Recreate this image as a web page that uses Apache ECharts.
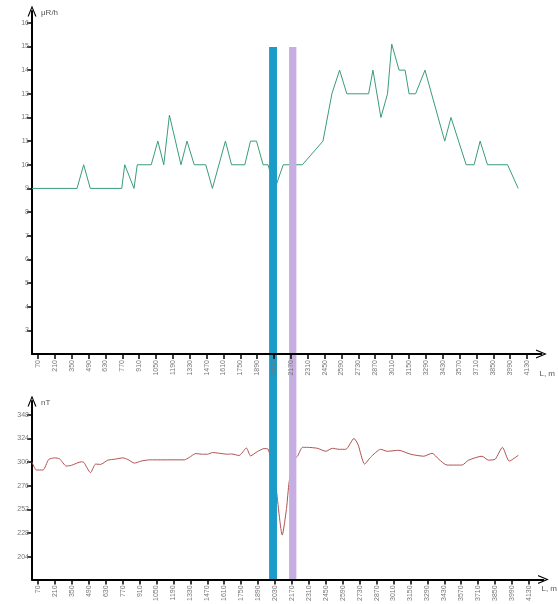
<!DOCTYPE html>
<html>
<head>
<meta charset="utf-8">
<script src="https://cdn.jsdelivr.net/npm/echarts@6/dist/echarts.min.js"></script>
<style>html,body{margin:0;padding:0;background:#fff;}#c{width:558px;height:604px;}</style>
</head>
<body>
<div id="c"></div>
<script>
// ---- data ----
const xTickLabels = [70,210,350,490,630,770,910,1050,1190,1330,1470,1610,1750,1890,2030,2170,2310,2450,2590,2730,2870,3010,3150,3290,3430,3570,3710,3850,3990,4130];
const doseTicks = [3,4,5,6,7,8,9,10,11,12,13,14,15,16];
const magTicks = [204,228,252,276,300,324,348];

const doseX = [20,394,449,504,765,790,867,894,1010,1065,1114,1161,1257,1307,1367,1463,1518,1626,1677,1787,1834,1884,1939,1980,2038,2106,2265,2436,2510,2574,2634,2815,2851,2917,2972,3007,3068,3118,3151,3205,3283,3447,3499,3625,3691,3741,3802,3969,4057];
const doseY = [9,9,10,9,9,10,9,10,10,11,10,12.1,10,11,10,10,9,11,10,10,11,11,10,10,9,10,10,11,13,14,13,13,14,12,13,15.1,14,14,13,13,14,11,12,10,10,11,10,10,9];

const magX = [20,56,111,158,208,249,303,345,427,449,504,546,587,647,707,771,812,867,921,991,1279,1320,1375,1430,1471,1513,1568,1636,1669,1733,1793,1828,1884,1939,1972,2034,2090,2125,2147,2189,2216,2257,2298,2381,2450,2504,2560,2615,2683,2716,2771,2821,2903,2958,3054,3151,3260,3329,3384,3452,3576,3631,3741,3796,3851,3911,3967,4043];
const magY = [300,292,292,302.7,304.3,303.3,296,296.7,300.3,299.7,289.3,298,297.7,302,303,304.3,302.7,299,301,302.3,302.3,304.7,308.7,308,308,309.7,309,308,308.3,306.7,314.3,306.3,310.7,313.7,313.3,278,226,253,280,303,306,315,315,314,311,314,313,313,324,318,298,305,313,311,312,308,306,309,303,297,297,302,306,302,303,315,301,307];

const bandStart = [1975, 2140];
const bandEnd = [2040, 2200];
const bandColor = ['#1a9bc9', '#c6aee3'];

// ---- chart ----
const chart = echarts.init(document.getElementById('c'));
const font = 'Liberation Sans, Arial, sans-serif';
const chevron = 'path://M5,0 L10,12 L8.6,12 L5,3 L1.4,12 L0,12 Z';
const X_MIN = 20, X_MAX = 4250;
const plain = v => String(v);

function xAxisCfg(gridIndex, namePad) {
  return {
    type: 'value', gridIndex, min: X_MIN, max: X_MAX, z: 20,
    name: 'L, m', nameLocation: 'end', nameGap: -2,
    nameTextStyle: {fontFamily: font, fontSize: 8, color: '#555', align: 'left', verticalAlign: 'top', padding: [namePad,0,0,0]},
    splitLine: {show: false},
    axisLine: {show: true, onZero: false, lineStyle: {color: '#000', width: 2}, symbol: ['none', chevron], symbolSize: [9, 12]},
    axisTick: {show: true, length: 5, customValues: xTickLabels, lineStyle: {color: '#000', width: 1.5}},
    axisLabel: {customValues: xTickLabels, formatter: plain, rotate: 90, fontSize: 7, fontFamily: font, color: '#777', margin: 6}
  };
}
function yAxisCfg(gridIndex, name, min, max, ticks) {
  return {
    type: 'value', gridIndex, min, max, name,
    nameLocation: 'end', nameGap: -2,
    nameTextStyle: {fontFamily: font, fontSize: 8, color: '#555', align: 'left', verticalAlign: 'middle', padding: [4,0,0,9]},
    splitLine: {show: false},
    axisLine: {show: true, onZero: false, lineStyle: {color: '#000', width: 2}, symbol: ['none', chevron], symbolSize: [9, 12]},
    axisTick: {show: true, length: 5, customValues: ticks, lineStyle: {color: '#000', width: 1.5}},
    axisLabel: {customValues: ticks, formatter: plain, fontSize: 7, fontFamily: font, color: '#777', margin: 3}
  };
}

const option = {
  animation: false,
  backgroundColor: '#fff',
  grid: [
    {left: 32, width: 513, top: 11, height: 343},
    {left: 32, width: 513, top: 401, height: 181},
    {left: 32, width: 513, top: 47, height: 533}
  ],
  xAxis: [
    xAxisCfg(0, 16),
    xAxisCfg(1, 5),
    {type: 'value', gridIndex: 2, min: X_MIN, max: X_MAX, show: false}
  ],
  yAxis: [
    yAxisCfg(0, 'μR/h', 2, 16.5, doseTicks),
    yAxisCfg(1, 'nT', 181, 362, magTicks),
    {type: 'value', gridIndex: 2, min: 0, max: 1, show: false}
  ],
  series: [
    {
      type: 'line', xAxisIndex: 0, yAxisIndex: 0, symbol: 'none',
      lineStyle: {color: '#3a9d78', width: 1},
      data: doseX.map((x, i) => [x, doseY[i]])
    },
    {
      type: 'line', xAxisIndex: 1, yAxisIndex: 1, symbol: 'none', smooth: 0.2,
      lineStyle: {color: '#b05252', width: 1},
      data: magX.map((x, i) => [x, magY[i]])
    },
    {
      type: 'line', xAxisIndex: 2, yAxisIndex: 2, symbol: 'none', z: 10,
      lineStyle: {opacity: 0}, data: [[bandStart[0], 0.5]],
      markArea: {
        silent: true, z: 10,
        data: bandStart.map((s, i) => [
          {xAxis: s, itemStyle: {color: bandColor[i], opacity: 1}},
          {xAxis: bandEnd[i]}
        ])
      }
    }
  ]
};
chart.setOption(option);
</script>
</body>
</html>
